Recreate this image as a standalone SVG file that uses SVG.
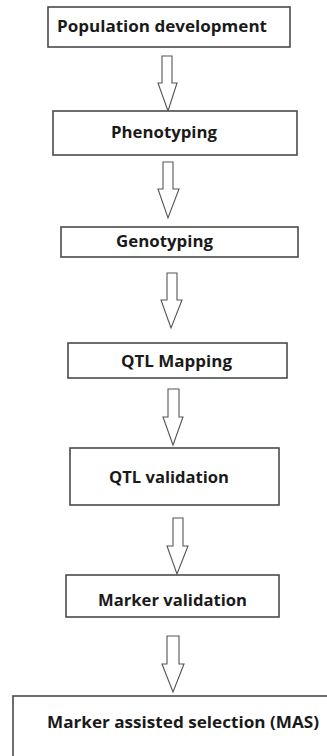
<svg xmlns="http://www.w3.org/2000/svg" width="327" height="756" viewBox="0 0 327 756">
<style>
.box{fill:#fff;stroke:#4a4a4a;stroke-width:1.6}
.arr{fill:#fff;stroke:#555;stroke-width:1.1;stroke-linejoin:miter}
.t{font-family:"Open Sans","Liberation Sans",sans-serif;font-weight:bold;font-size:15.5px;fill:#1a1a1a;text-anchor:start}
</style>
<rect width="327" height="756" fill="#fff"/>
<g id="connectors">
<polygon class="arr" points="162,56 172,56 172,83 177,83 168,111 158,83 162,83"/>
<polygon class="arr" points="163,162 173,162 173,189 179,189 168,218 158,189 163,189"/>
<polygon class="arr" points="167,273 177,273 177,300 182,300 171,328 161,300 167,300"/>
<polygon class="arr" points="168,389 179,389 179,417 183,417 173,445 163,417 168,417"/>
<polygon class="arr" points="173,518 183,518 183,546 188,546 177,574 167,546 173,546"/>
<polygon class="arr" points="167,636 179,636 179,664 184,664 173,692 162,664 167,664"/>
</g>
<g id="n1"><rect class="box" x="48" y="7" width="242" height="40"/><text class="t" x="57" y="32" textLength="210" lengthAdjust="spacingAndGlyphs">Population development</text></g>
<g id="n2"><rect class="box" x="53" y="111" width="244" height="44"/><text class="t" x="111" y="138" textLength="106" lengthAdjust="spacingAndGlyphs">Phenotyping</text></g>
<g id="n3"><rect class="box" x="61" y="227" width="237" height="30"/><text class="t" x="116" y="247" textLength="97" lengthAdjust="spacingAndGlyphs">Genotyping</text></g>
<g id="n4"><rect class="box" x="68" y="343" width="219" height="35"/><text class="t" x="121" y="367" textLength="111" lengthAdjust="spacingAndGlyphs">QTL Mapping</text></g>
<g id="n5"><rect class="box" x="70" y="448" width="209" height="57"/><text class="t" x="109" y="483" textLength="120" lengthAdjust="spacingAndGlyphs">QTL validation</text></g>
<g id="n6"><rect class="box" x="66" y="575" width="213" height="42"/><text class="t" x="98" y="606" textLength="149" lengthAdjust="spacingAndGlyphs">Marker validation</text></g>
<g id="n7"><rect class="box" x="13" y="696" width="330" height="80"/><text class="t" x="47" y="728" textLength="272" lengthAdjust="spacingAndGlyphs">Marker assisted selection (MAS)</text></g>
</svg>
